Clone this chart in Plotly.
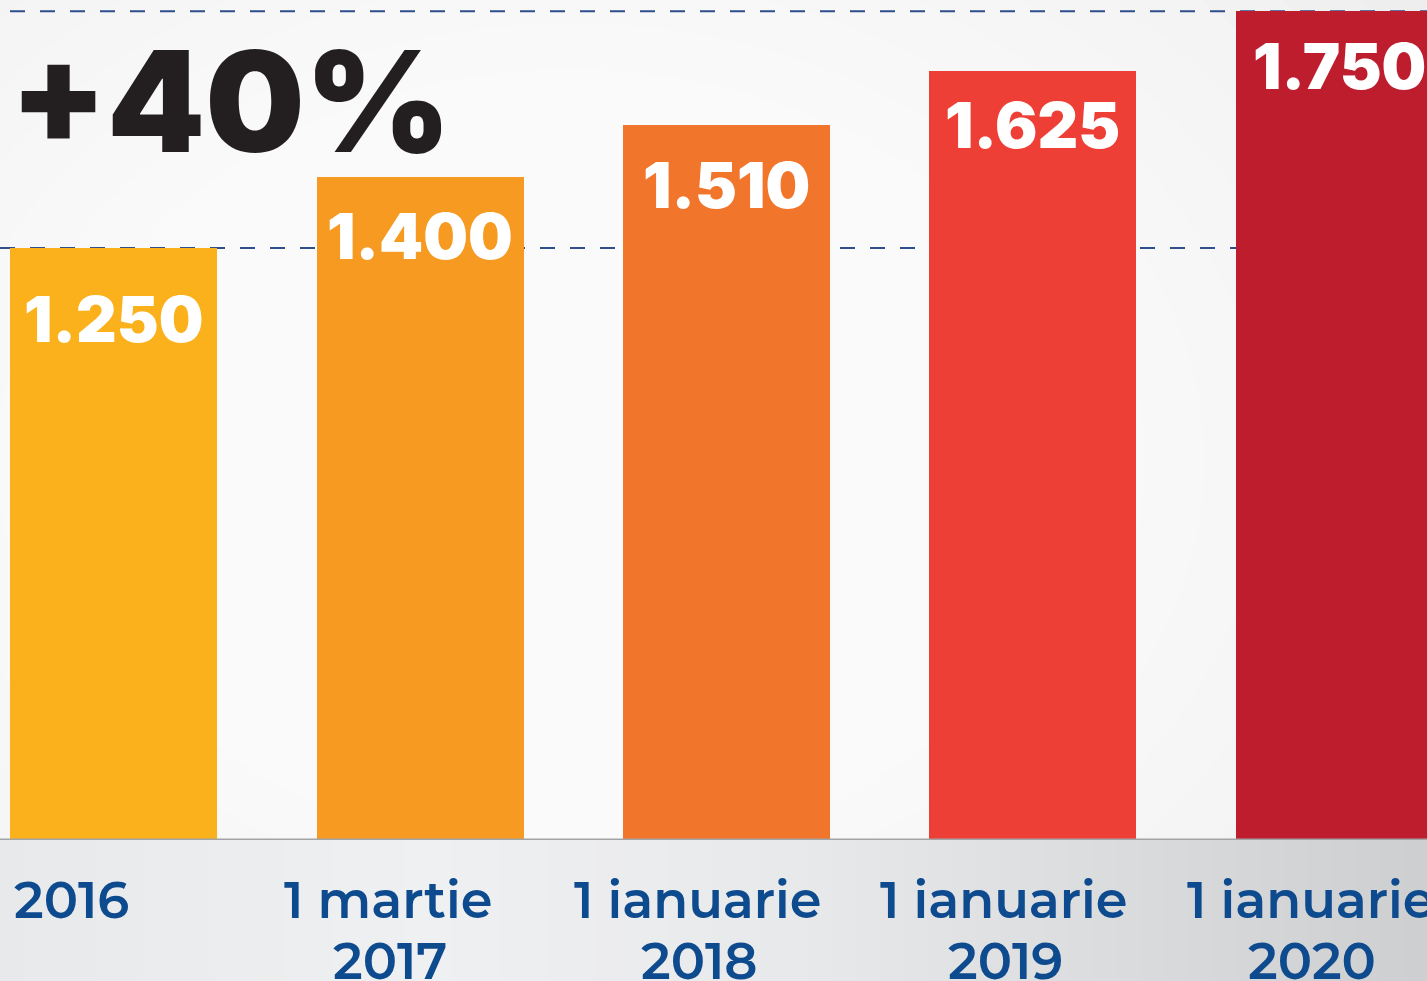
import plotly.graph_objects as go

categories = ["2016", "1 martie 2017", "1 ianuarie 2018", "1 ianuarie 2019", "1 ianuarie 2020"]
label_line1 = ["2016", "1 martie", "1 ianuarie", "1 ianuarie", "1 ianuarie"]
label_line2 = ["", "2017", "2018", "2019", "2020"]
values = [1250, 1400, 1510, 1625, 1750]
value_labels = ["1.250", "1.400", "1.510", "1.625", "1.750"]
bar_colors = ["#FBB11B", "#F69A22", "#F1752B", "#EE3F36", "#BE1D2D"]
headline = "+40%"
ref_low = 1250
ref_high = 1750

W, H = 1427, 981
BASE = 840  # plot bottom in px

fig = go.Figure()
x_idx = list(range(len(categories)))
fig.add_trace(go.Bar(
    x=x_idx, y=values, marker=dict(color=bar_colors, line=dict(width=0)),
    width=0.676, hoverinfo="skip", showlegend=False,
))

shapes = []
# background approximation (soft radial light)
shapes.append(dict(type="rect", xref="paper", yref="paper", x0=0, x1=1, y0=0, y1=1,
                   fillcolor="#e8e9ea", line=dict(width=0), layer="below"))
n = 16
for k in range(n):
    r = 0.78 - k * 0.042
    shapes.append(dict(type="circle", xref="paper", yref="paper",
                       x0=0.40 - r, x1=0.40 + r, y0=0.45 - r * 1.3, y1=0.45 + r * 1.3,
                       fillcolor="white", opacity=0.15, line=dict(width=0), layer="below"))


def mix(a, b, t):
    return "#" + "".join(f"{round(a[j] + (b[j] - a[j]) * t):02x}" for j in range(3))


# bottom band (smooth gradient left->right)
stops = [(0.0, (232, 233, 234)), (0.3, (239, 240, 241)), (0.55, (232, 233, 234)), (1.0, (206, 207, 209))]
nb = 60
for k in range(nb):
    t = (k + 0.5) / nb
    for (t0, c0), (t1, c1) in zip(stops[:-1], stops[1:]):
        if t0 <= t <= t1:
            col = mix(c0, c1, (t - t0) / (t1 - t0))
            break
    shapes.append(dict(type="rect", xref="paper", yref="paper", x0=k / nb, x1=(k + 1) / nb + 0.001,
                       y0=-(H - BASE) / BASE, y1=0, fillcolor=col, line=dict(width=0), layer="below"))
# dashed reference lines
for v, x0 in [(ref_high, 10 / W), (ref_low, 0)]:
    shapes.append(dict(type="line", xref="paper", yref="y", x0=x0, x1=1, y0=v, y1=v,
                       line=dict(color="#2E4E8C", width=2, dash="15px,15px"), layer="below"))
# baseline
shapes.append(dict(type="line", xref="paper", yref="y", x0=0, x1=1, y0=0, y1=0,
                   line=dict(color="#a3a4a6", width=3), layer="above"))

annotations = []
VAL_FONT = dict(family="Inter, Lato, sans-serif", size=63, color="white", weight=900)
val_shifts = [-31, -19, -20, -14, -15]
for i, (v, t) in enumerate(zip(values, value_labels)):
    annotations.append(dict(x=i, y=v, xref="x", yref="y", text=t, showarrow=False,
                            yanchor="top", xanchor="center", yshift=val_shifts[i], font=VAL_FONT))

LBL_FONT = dict(family="Montserrat, Inter, sans-serif", size=51, color="#0E4A8E", weight=600)
shifts = [-42, -32, -29, -29, -29]
for i in x_idx:
    annotations.append(dict(x=i, y=0, xref="x", yref="paper", text=label_line1[i], showarrow=False,
                            yanchor="top", xanchor="center", xshift=shifts[i], yshift=-27, font=LBL_FONT))
    if label_line2[i]:
        annotations.append(dict(x=i, y=0, xref="x", yref="paper", text=label_line2[i], showarrow=False,
                                yanchor="top", xanchor="center", xshift=shifts[i] + 2, yshift=-88, font=LBL_FONT))

annotations.append(dict(x=0, y=1, xref="paper", yref="paper", text=headline, showarrow=False,
                        xanchor="left", yanchor="top", xshift=8, yshift=-14,
                        font=dict(family="Inter, Lato, sans-serif", size=140, color="#231F20", weight=900)))

fig.update_layout(
    width=W, height=H,
    margin=dict(l=0, r=0, t=0, b=H - BASE),
    paper_bgcolor="#e8e9ea", plot_bgcolor="rgba(0,0,0,0)",
    xaxis=dict(range=[-0.372, 4.287], showticklabels=False, showgrid=False, zeroline=False, fixedrange=True),
    yaxis=dict(range=[0, 1774], showticklabels=False, showgrid=False, zeroline=False, fixedrange=True),
    shapes=shapes, annotations=annotations, bargap=0,
)

fig.write_html("out.html", config={"displayModeBar": False},
               post_script="document.body.style.margin='0';document.body.style.overflow='hidden';")
